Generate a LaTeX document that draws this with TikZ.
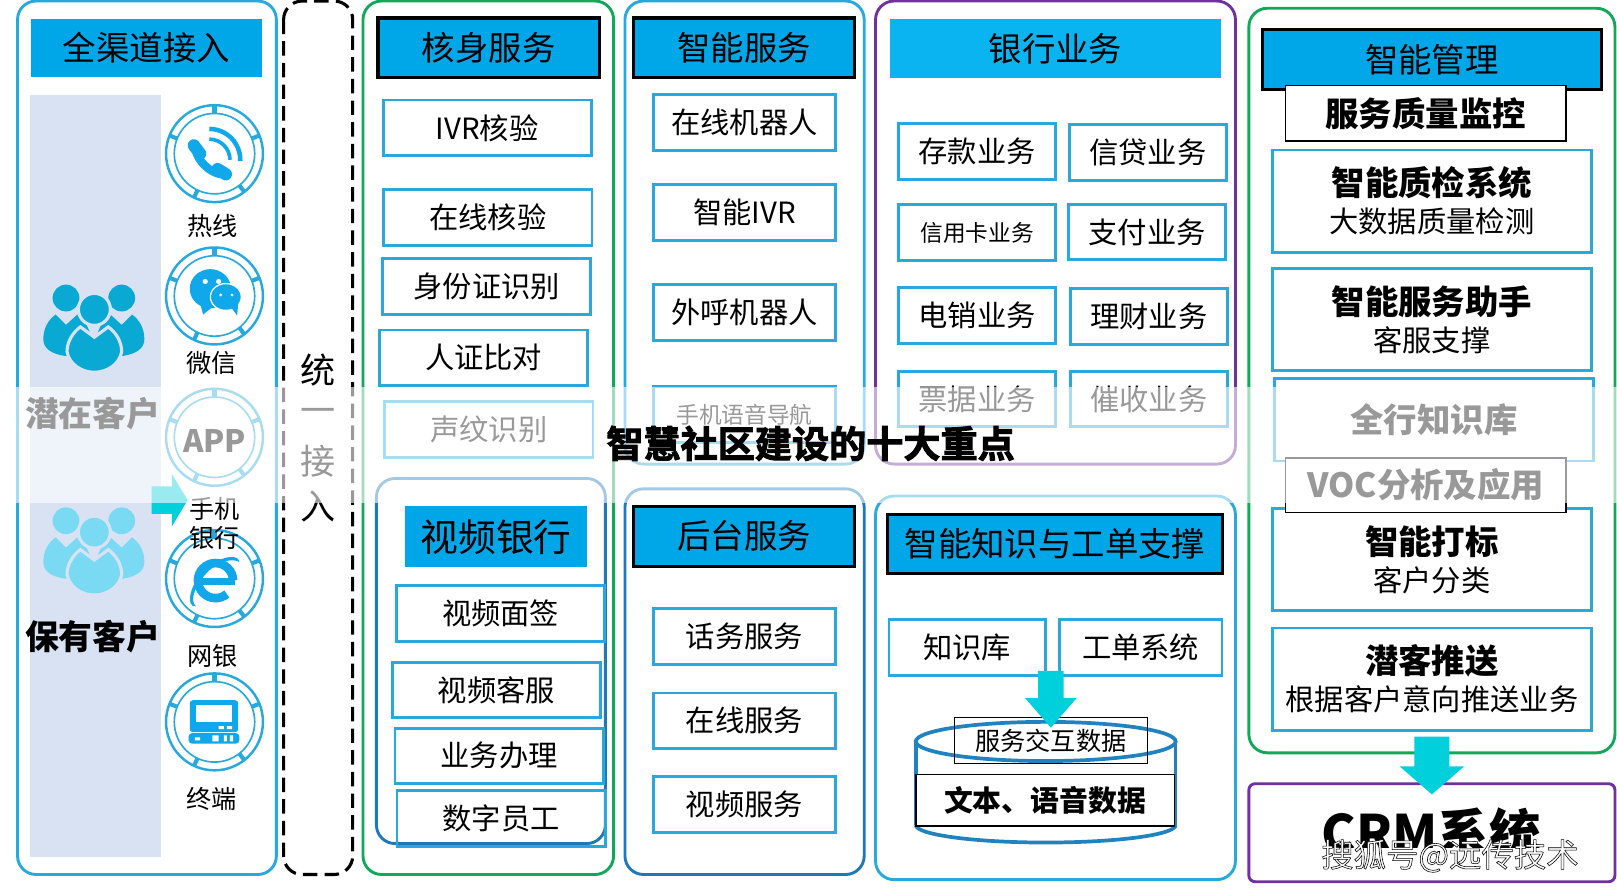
\documentclass[tikz,border=0pt]{standalone}
\usepackage{fontspec}
\setmainfont{Noto Sans CJK SC}
\newfontfamily\heavyfont[UprightFont=* Bold,FakeBold=2.5]{Noto Sans CJK SC}
\newfontfamily\markfont[FakeBold=1.7]{Noto Sans CJK SC}
\usetikzlibrary{shapes.arrows}
\definecolor{linecyan}{HTML}{28A9DD}
\definecolor{headcyan}{HTML}{00A7E8}
\definecolor{bankcyan}{HTML}{0AB4F0}
\definecolor{linegreen}{HTML}{12A85A}
\definecolor{linepurple}{HTML}{7030A0}
\definecolor{lineblue}{HTML}{1F78B8}
\definecolor{arrowteal}{HTML}{00CFDC}
\definecolor{sidepale}{HTML}{D9E2F3}
\definecolor{iconblue}{HTML}{10A8EA}
\definecolor{peopledark}{HTML}{0AA9D4}
\definecolor{peoplelight}{HTML}{7BDAF3}
\tikzset{
  panel/.style={rounded corners=9pt,line width=1.4pt},
  headbox/.style={fill=headcyan,minimum width=107.5pt,minimum height=29pt,inner sep=0pt,font=\fontsize{16.2}{18}\selectfont},
  blackhead/.style={headbox,draw=black,line width=1.5pt},
  bluebox/.style={draw=linecyan,line width=1.4pt,minimum height=27pt,inner sep=0pt,font=\fontsize{14.2}{16}\selectfont},
  boxwide/.style={bluebox,minimum width=101pt},
  boxmid/.style={bluebox,minimum width=88pt},
  boxbiz/.style={bluebox,minimum width=76pt},
  boxtall/.style={bluebox,minimum width=154.5pt,minimum height=49.5pt,align=center,font=\fontsize{14.2}{18}\selectfont},
  blackbox/.style={draw=black,inner sep=0pt},
  chanlabel/.style={inner sep=0pt,font=\fontsize{12.2}{14}\selectfont},
  blockarrow/.style={single arrow,fill=arrowteal,draw=none,outer sep=0pt}
}
\newcommand{\bigb}[1]{{\bfseries\fontsize{16.2}{20}\selectfont #1}}
\begin{document}
\begin{tikzpicture}[x=0.5pt,y=-0.5pt]
\useasboundingbox (0,0) rectangle (1568,865);

% outer panels
\draw[panel,draw=linecyan] (17,1) rectangle (268,848);
\draw[panel,draw=black,dash pattern=on 7pt off 3.5pt,line width=1.5pt] (275,1) rectangle (342,848);
\draw[panel,draw=linegreen] (352,1) rectangle (595,848);
\draw[panel,draw=linecyan] (606,1) rectangle (838,450);
\draw[panel,draw=linepurple] (849,1) rectangle (1198,450);
\draw[panel,draw=lineblue] (606,474) rectangle (838,848);
\draw[panel,draw=linecyan] (849,481) rectangle (1198,853);
\draw[panel,draw=linegreen] (1211,8) rectangle (1566,730);
\draw[panel,rounded corners=3pt,draw=linepurple] (1211,760) rectangle (1566,855);
\draw[panel,draw=lineblue] (365,464) rectangle (587,818);

% customers
\fill[sidepale] (29,92) rectangle (156,831);
\foreach \ys/\col in {0/peopledark,216/peoplelight}{
  \begin{scope}[shift={(0,\ys)}]
    \fill[\col] (64,289) circle (13);
    \fill[\col] (118,289) circle (13);
    \fill[\col] (54,305) -- (64,315) -- (75,305) .. controls (85,312) and (90,325) .. (90,345) -- (62,345)
      .. controls (50,343) and (42,338) .. (42,329) .. controls (42,318) and (47,310) .. (54,305) -- cycle;
    \fill[\col] (128,305) -- (118,315) -- (107,305) .. controls (97,312) and (92,325) .. (92,345) -- (120,345)
      .. controls (132,343) and (140,338) .. (140,329) .. controls (140,318) and (135,310) .. (128,305) -- cycle;
    \fill[\col,draw=sidepale,line width=1.5pt] (91.5,300) circle (15.5);
    \fill[\col,draw=sidepale,line width=1.5pt] (78,317) -- (91.5,327) -- (105,317) .. controls (112,322) and (118,331) .. (118,341)
      .. controls (116,353) and (104,361) .. (91.5,361) .. controls (79,361) and (67,353) .. (65,341)
      .. controls (65,331) and (71,322) .. (78,317) -- cycle;
  \end{scope}
}
\node[font=\bfseries\fontsize{16.4}{18}\selectfont,inner sep=0pt] (potential) at (90,401) {潜在客户};
\node[font=\bfseries\fontsize{16.4}{18}\selectfont,inner sep=0pt] (existing) at (90,617) {保有客户};

% channel rings
\foreach \cy in {149,287,424,561,700}{
  \draw[linecyan,line width=1.2pt] (208,\cy) circle (47);
  \draw[linecyan,line width=0.8pt] (208,\cy) circle (39);
  \foreach \a in {90,22,158,-52,-115}{
    \draw[linecyan,line width=2pt] ({208+39*cos(\a)},{\cy-39*sin(\a)}) -- ({208+47*cos(\a)},{\cy-47*sin(\a)});
  }
}
% phone
\draw[iconblue,line width=4pt,line cap=round] (190,146) .. controls (192,156) and (203,167) .. (214,169);
\draw[iconblue,line width=6pt,line cap=round] (188,141) -- (194,149);
\draw[iconblue,line width=6pt,line cap=round] (211,164) -- (219,169);
\draw[iconblue,line width=1.8pt] (203,135) arc (-90:0:20);
\draw[iconblue,line width=2.2pt] (203,125) arc (-90:2:30);
% wechat
\fill[iconblue] (204,280) ellipse (20 and 19);
\fill[iconblue] (194,294) -- (197,305) -- (207,297) -- cycle;
\fill[white] (199,273) circle (2.5) (212,273) circle (2.5);
\fill[iconblue,draw=white,line width=0.6pt] (219,288) ellipse (15 and 13);
\fill[iconblue] (224,298) -- (230,306) -- (231,294) -- cycle;
\fill[white] (214,286) circle (1.5) (225,286) circle (1.5);
% app
\node[font=\bfseries\fontsize{15}{18}\selectfont,inner sep=0pt] (app) at (208,428) {APP};
% ie
\draw[iconblue,line width=4.2pt] (226,563) arc (0:-310:17);
\draw[iconblue,line width=3.5pt] (193,564) -- (228,564);
\fill[iconblue] (190,588) .. controls (180,590) and (182,565) .. (204,548) .. controls (218,538) and (232,538) .. (232,545)
  .. controls (226,541) and (212,544) .. (202,554) .. controls (190,566) and (183,582) .. (190,588) -- cycle;
% terminal
\fill[iconblue,rounded corners=1.5pt] (184,679) rectangle (231,710);
\fill[white] (190,684) rectangle (225,700);
\fill[white] (212,704) rectangle (217,707) (220,704) rectangle (225,707);
\fill[iconblue,rounded corners=1.5pt] (183,711) rectangle (232,721);
\fill[white] (189,715) rectangle (194,718) (206,713) rectangle (212,719) (217,713) rectangle (220,719) (223,713) rectangle (226,719);

\begin{scope}[every node/.style={chanlabel}]
  \node (hotline) at (206,219) {热线};
  \node (wechat) at (205,352) {微信};
  \node (mobile1) at (208,494) {手机};
  \node (mobile2) at (208,522) {银行};
  \node (netbank) at (206,636) {网银};
  \node (terminal) at (205,775) {终端};
\end{scope}

\node[blockarrow,minimum width=24.5pt,minimum height=16.5pt,inner sep=6.5pt,single arrow head extend=6pt,single arrow tip angle=118,text width=0pt,text height=0pt,text depth=0pt] (arrowin) at (160.5,485) {};

% unified access
\begin{scope}[every node/.style={inner sep=0pt,font=\fontsize{17}{19}\selectfont}]
  \node (uni1) at (308,359) {统};
  \node (uni2) at (308,403) {一};
  \node (uni3) at (308,447) {接};
  \node (uni4) at (308,491) {入};
\end{scope}

% heads
\node[headbox,minimum width=112pt,minimum height=28.5pt] (allchannel) at (142,46.5) {全渠道接入};
\node[blackhead] (verify) at (474,46.5) {核身服务};
\node[blackhead] (smartsrv) at (721.5,46.5) {智能服务};
\node[headbox,fill=bankcyan,minimum width=160.5pt] (bank) at (1023.5,47) {银行业务};
\node[blackhead,minimum width=164.5pt] (manage) at (1388.5,58) {智能管理};
\node[headbox,minimum width=88pt,minimum height=29.5pt,font=\fontsize{18.3}{20}\selectfont] (videobank) at (481,520.5) {视频银行};
\node[blackhead] (backsrv) at (721.5,520) {后台服务};
\node[blackhead,minimum width=162pt,minimum height=28.5pt] (knowledge) at (1023,527.5) {智能知识与工单支撑};

% verify column
\begin{scope}[every node/.style={boxwide}]
  \node (ivrcheck) at (472.5,124) {IVR核验};
  \node (onlinecheck) at (473,211) {在线核验};
  \node (idcard) at (472,278) {身份证识别};
  \node (facecheck) at (469,347) {人证比对};
  \node (voiceprint) at (474,416.5) {声纹识别};
  \node (videosign) at (485.5,595) {视频面签};
  \node (videoserv) at (481.5,669) {视频客服};
  \node (bizhandle) at (484,733) {业务办理};
  \node (digital) at (486,793.5) {数字员工};
\end{scope}

% smart and back services
\begin{scope}[every node/.style={boxmid}]
  \node (robot) at (722,119) {在线机器人};
  \node (smartivr) at (722,206) {智能IVR};
  \node (callrobot) at (722,303) {外呼机器人};
  \node[font=\fontsize{11}{13}\selectfont] (voicenav) at (722,402) {手机语音导航};
  \node (callsrv) at (722,617) {话务服务};
  \node (onlinesrv) at (722,699) {在线服务};
  \node (videosrv) at (722,780) {视频服务};
\end{scope}

% bank business
\begin{scope}[every node/.style={boxbiz}]
  \node (deposit) at (947.5,147) {存款业务};
  \node (credit) at (1113,148) {信贷业务};
  \node[font=\fontsize{11}{13}\selectfont] (card) at (947.5,225.5) {信用卡业务};
  \node (pay) at (1112.5,225) {支付业务};
  \node (telesale) at (947.5,306) {电销业务};
  \node (wealth) at (1114,307) {理财业务};
  \node (bill) at (947.5,387) {票据业务};
  \node (collect) at (1114,387) {催收业务};
  \node (kbase) at (938,628) {知识库};
  \node[minimum width=79pt] (ticket) at (1106,628) {工单系统};
\end{scope}

% data cylinder
\draw[lineblue!80!linecyan,line width=1.8pt] (888,719) -- (888,800) (1140,719) -- (1140,800);
\draw[lineblue!80!linecyan,line width=1.8pt] (888,800) arc (180:0:126 and 17);
\draw[lineblue!80!linecyan,line width=1.8pt] (1014,719) ellipse (126 and 19);
\node[blackbox,minimum width=94pt,minimum height=22pt,font=\fontsize{12.2}{14}\selectfont] (interact) at (1019,718) {服务交互数据};
\node[blackbox,line width=0.8pt,fill=white,minimum width=125.5pt,minimum height=25pt,font=\bfseries\fontsize{14}{16}\selectfont] (textvoice) at (1013.5,776) {文本、语音数据};
\node[blockarrow,shape border rotate=270,minimum width=24.5pt,minimum height=27.5pt,inner sep=6pt,single arrow head extend=6.25pt,single arrow tip angle=82,text width=0pt,text height=0pt,text depth=0pt] (arrowdb) at (1019,671) {};

% management column
\node[blackbox,line width=0.8pt,fill=white,minimum width=136pt,minimum height=27pt,font=\bfseries\fontsize{16.2}{18}\selectfont] (quality) at (1382.5,110) {服务质量监控};
\begin{scope}[every node/.style={boxtall}]
  \node (qcsys) at (1388.5,195) {\bigb{智能质检系统}\\大数据质量检测};
  \node (assist) at (1388.5,310) {\bigb{智能服务助手}\\客服支撑};
  \node[minimum height=40pt] (kb) at (1390.5,407) {\bigb{全行知识库}};
  \node (tagging) at (1388.5,542.5) {\bigb{智能打标}\\客户分类};
  \node (prospect) at (1388.5,658.5) {\bigb{潜客推送}\\根据客户意向推送业务};
\end{scope}
\node[blackbox,line width=0.8pt,fill=white,minimum width=136pt,minimum height=26.5pt,font=\bfseries\fontsize{16.2}{18}\selectfont] (voc) at (1382.5,470.5) {VOC分析及应用};
\node[blockarrow,shape border rotate=270,minimum width=31pt,minimum height=28pt,inner sep=8.25pt,single arrow head extend=7.25pt,single arrow tip angle=98,text width=0pt,text height=0pt,text depth=0pt] (arrowcrm) at (1388.5,735) {};

\node[font=\bfseries\fontsize{25}{27}\selectfont,inner sep=0pt] (crm) at (1388,808) {CRM系统};

% pale band and title
\fill[white,opacity=0.6] (0,375) rectangle (1568,488);
\node[font=\heavyfont\fontsize{18}{20}\selectfont,inner sep=0pt] (title) at (786,430) {智慧社区建设的十大重点};

% watermark
\fill[white] (1280,822) rectangle (1532,850);
\node[font=\markfont\fontsize{15.7}{18}\selectfont,text=white,inner sep=0pt] (mark) at (1406,830) {\special{pdf:code 0 G}搜狐号@远传技术};
\end{tikzpicture}
\end{document}
